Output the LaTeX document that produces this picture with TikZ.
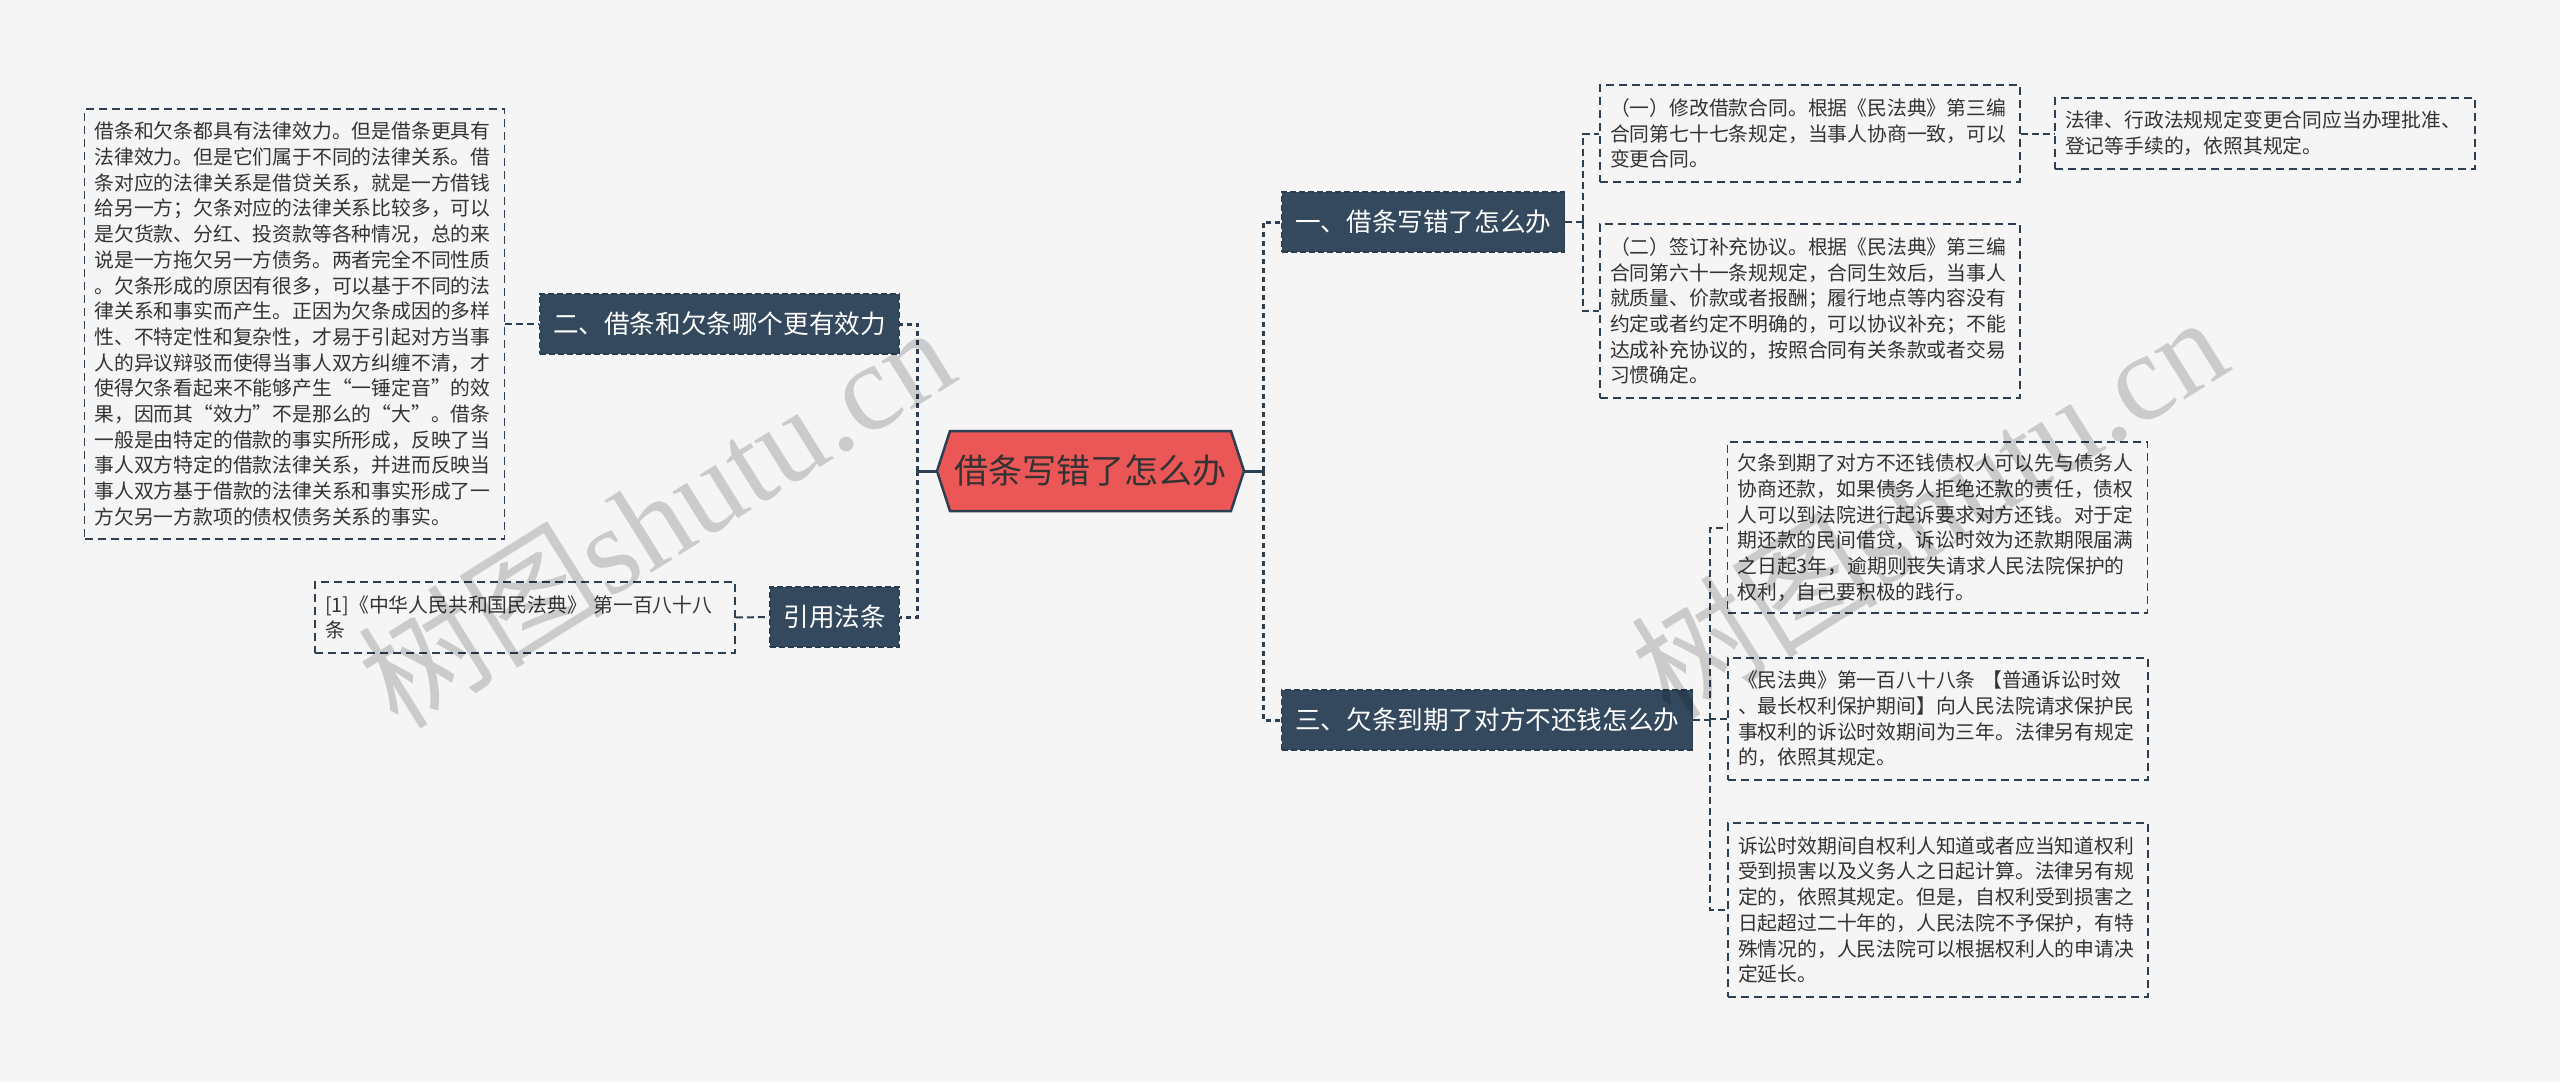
\documentclass[tikz,border=0pt]{standalone}
\usepackage{fontspec}
\setmainfont{Noto Sans CJK SC}
\newfontfamily\wmserif{Liberation Serif}
\definecolor{bg}{HTML}{F5F5F5}
\definecolor{navy}{HTML}{34495E}
\definecolor{navyline}{HTML}{2A3B4D}
\definecolor{redfill}{HTML}{EB5656}
\definecolor{txt}{HTML}{333333}
\definecolor{lnk}{HTML}{2E3F52}
\begin{document}
\begin{tikzpicture}[x=1pt,y=-1pt,
  txtbox/.style={draw=lnk, dash pattern=on 8pt off 5pt, line width=1.6pt,
    text=txt, text width=400pt, align=left, inner xsep=10pt, inner ysep=0pt,
    font=\fontsize{19.8pt}{25.7pt}\selectfont},
  darkbox/.style={fill=navy, draw=navyline, dash pattern=on 6pt off 3pt, line width=1.4pt,
    text=white, inner xsep=13.5pt, inner ysep=0pt, minimum height=60pt,
    font=\fontsize{25.6pt}{30pt}\selectfont},
  lnkline/.style={draw=lnk, dash pattern=on 7pt off 4pt, line width=2pt},
  trunk/.style={draw=lnk, dash pattern=on 5pt off 4pt, line width=3pt},
  wm/.style={rotate=32, text=black, opacity=0.17, inner sep=0pt,
    font=\fontsize{124pt}{128pt}\selectfont}
]
\useasboundingbox (0,0) rectangle (2560,1082);
\fill[bg] (0,0) rectangle (2560,1082);

% central hexagon
\filldraw[fill=redfill, draw=lnk, line width=2.5pt]
  (937,471) -- (950,431) -- (1231,431) -- (1244,471) -- (1231,511) -- (950,511) -- cycle;
\node[text=txt, minimum width=307pt, minimum height=80pt, inner sep=0pt,
  font=\fontsize{34pt}{40pt}\selectfont] (root) at (1090.5,471) {借条写错了怎么办};

% main branches
\node[darkbox, anchor=west] (one) at (1281,222) {一、借条写错了怎么办};
\node[darkbox, anchor=west] (three) at (1281,720) {三、欠条到期了对方不还钱怎么办};
\node[darkbox, anchor=east] (two) at (900,324) {二、借条和欠条哪个更有效力};
\node[darkbox, anchor=east] (cite) at (900,617) {引用法条};

% text boxes
\node[txtbox, minimum height=430pt] (L1) at (294.5,324) {借条和欠条都具有法律效力。但是借条更具有\\
法律效力。但是它们属于不同的法律关系。借\\
条对应的法律关系是借贷关系，就是一方借钱\\
给另一方；欠条对应的法律关系比较多，可以\\
是欠货款、分红、投资款等各种情况，总的来\\
说是一方拖欠另一方债务。两者完全不同性质\\
。欠条形成的原因有很多，可以基于不同的法\\
律关系和事实而产生。正因为欠条成因的多样\\
性、不特定性和复杂性，才易于引起对方当事\\
人的异议辩驳而使得当事人双方纠缠不清，才\\
使得欠条看起来不能够产生“一锤定音”的效\\
果，因而其“效力”不是那么的“大”。借条\\
一般是由特定的借款的事实所形成，反映了当\\
事人双方特定的借款法律关系，并进而反映当\\
事人双方基于借款的法律关系和事实形成了一\\
方欠另一方款项的债权债务关系的事实。};

\node[txtbox, minimum height=71pt] (L2) at (525,617.5) {[1]《中华人民共和国民法典》 第一百八十八\\条};

\node[txtbox, minimum height=97pt] (A1) at (1810,133.5) {（一）修改借款合同。根据《民法典》第三编\\
合同第七十七条规定，当事人协商一致，可以\\
变更合同。};

\node[txtbox, minimum height=174pt] (A2) at (1810,311) {（二）签订补充协议。根据《民法典》第三编\\
合同第六十一条规规定，合同生效后，当事人\\
就质量、价款或者报酬；履行地点等内容没有\\
约定或者约定不明确的，可以协议补充；不能\\
达成补充协议的，按照合同有关条款或者交易\\
习惯确定。};

\node[txtbox, minimum height=71pt] (A3) at (2265,133.5) {法律、行政法规规定变更合同应当办理批准、\\
登记等手续的，依照其规定。};

\node[txtbox, minimum height=171pt] (B1) at (1937.5,527.5) {欠条到期了对方不还钱债权人可以先与债务人\\
协商还款，如果债务人拒绝还款的责任，债权\\
人可以到法院进行起诉要求对方还钱。对于定\\
期还款的民间借贷，诉讼时效为还款期限届满\\
之日起3年，逾期则丧失请求人民法院保护的\\
权利，自己要积极的践行。};

\node[txtbox, minimum height=122pt] (B2) at (1938,719) {《民法典》第一百八十八条 【普通诉讼时效\\
、最长权利保护期间】向人民法院请求保护民\\
事权利的诉讼时效期间为三年。法律另有规定\\
的，依照其规定。};

\node[txtbox, minimum height=174pt] (B3) at (1938,910) {诉讼时效期间自权利人知道或者应当知道权利\\
受到损害以及义务人之日起计算。法律另有规\\
定的，依照其规定。但是，自权利受到损害之\\
日起超过二十年的，人民法院不予保护，有特\\
殊情况的，人民法院可以根据权利人的申请决\\
定延长。};

% connectors
\draw[draw=lnk, line width=3pt] (root.west) -- ++(-19,0) coordinate (lt);
\draw[trunk] (lt) |- (two.east);
\draw[trunk] (lt) |- (cite.east);
\draw[draw=lnk, line width=3pt] (root.east) -- ++(19,0) coordinate (rt);
\draw[trunk] (rt) |- (one.west);
\draw[trunk] (rt) |- (three.west);

\draw[lnkline] (L1.east) -- (two.west);
\draw[lnkline] (L2.east) -- (cite.west);

\draw[lnkline] (one.east) -- ++(18,0) coordinate (oj);
\draw[lnkline] (oj) |- (A1.west);
\draw[lnkline] (oj) |- (A2.west);
\draw[lnkline] (A1.east) -- (A3.west);

\draw[lnkline] (three.east) -- ++(17,0) coordinate (tj);
\draw[lnkline] (tj) |- (B1.west);
\draw[lnkline] (tj) |- (B2.west);
\draw[lnkline] (tj) |- (B3.west);

% watermarks
\node[wm] (wm1) at (655,515) {树图{\wmserif shutu.cn}};
\node[wm] (wm2) at (1928,505) {树图{\wmserif shutu.cn}};
\end{tikzpicture}
\end{document}
